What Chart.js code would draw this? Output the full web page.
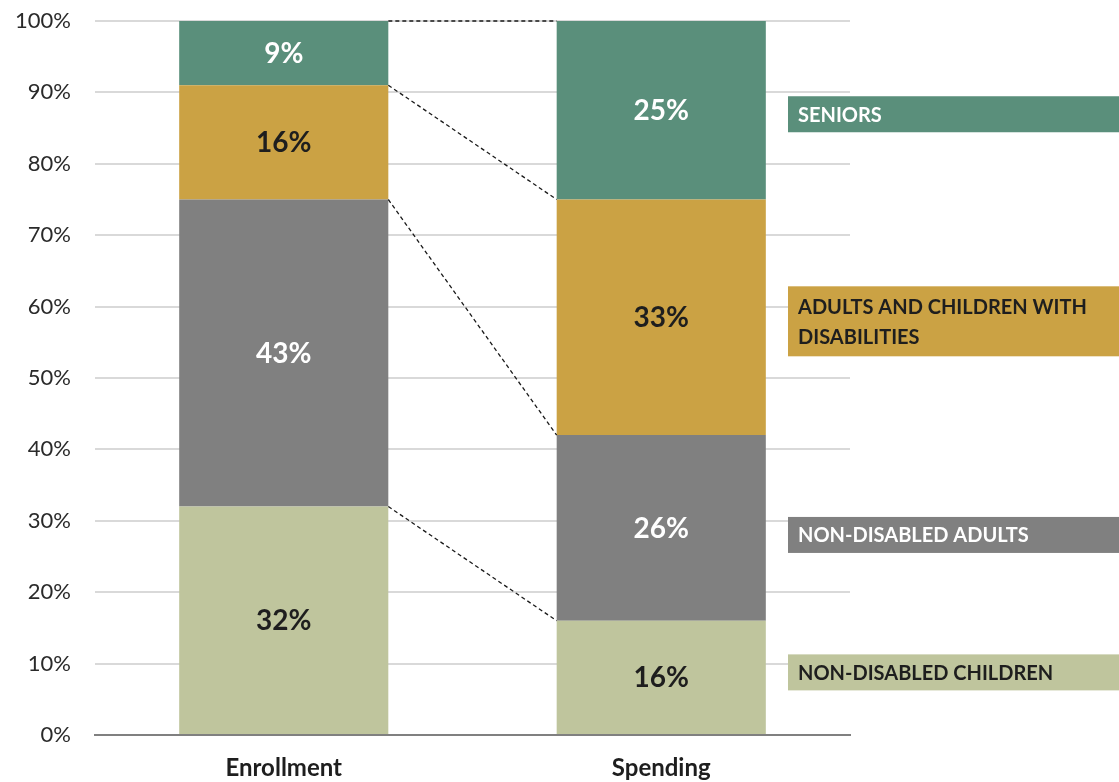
<!DOCTYPE html>
<html>
<head>
<meta charset="utf-8">
<script src="https://cdn.jsdelivr.net/npm/chart.js@4/dist/chart.umd.min.js"></script>
<style>
  html, body { margin: 0; padding: 0; background: #fff; }
  #wrap { width: 1119px; height: 782px; position: relative; }
</style>
</head>
<body>
<div id="wrap"><canvas id="c"></canvas></div>
<script>
// Share of enrollment vs. share of spending, by eligibility group
const categories = ['Enrollment', 'Spending'];
const groupNames = ['NON-DISABLED CHILDREN', 'NON-DISABLED ADULTS', 'ADULTS AND CHILDREN WITH DISABILITIES', 'SENIORS'];
const nonDisabledChildren = [32, 16];
const nonDisabledAdults = [43, 26];
const withDisabilities = [16, 33];
const seniors = [9, 25];
const yTicks = [0, 10, 20, 30, 40, 50, 60, 70, 80, 90, 100];

const colors = ['#BFC59D', '#808080', '#CBA244', '#5A8F7B'];
const labelColors = ['#1e1e1e', '#ffffff', '#1e1e1e', '#ffffff'];
const legendLines = [['NON-DISABLED CHILDREN'], ['NON-DISABLED ADULTS'], ['ADULTS AND CHILDREN WITH', 'DISABILITIES'], ['SENIORS']];
const tagShift = [-5, 7, 4, 4];
const FONT = 'Lato, "Open Sans", sans-serif';

// Values inside each segment
const segmentLabels = {
  id: 'segmentLabels',
  afterDatasetsDraw(chart) {
    const ctx = chart.ctx;
    ctx.save();
    ctx.font = 'bold 28px ' + FONT;
    ctx.textAlign = 'center';
    ctx.textBaseline = 'middle';
    chart.data.datasets.forEach((ds, i) => {
      chart.getDatasetMeta(i).data.forEach((bar, j) => {
        ctx.fillStyle = labelColors[i];
        ctx.fillText(ds.data[j] + '%', bar.x, (bar.y + bar.base) / 2 + 1);
      });
    });
    ctx.restore();
  }
};

// Dashed connectors between matching segment boundaries of the two bars
const connectors = {
  id: 'connectors',
  afterDatasetsDraw(chart) {
    const ctx = chart.ctx;
    const n = chart.data.datasets.length;
    ctx.save();
    ctx.strokeStyle = '#1a1a1a';
    ctx.lineWidth = 1.3;
    ctx.setLineDash([4, 3]);
    for (let i = 0; i < n; i++) {
      const a = chart.getDatasetMeta(i).data[0];
      const b = chart.getDatasetMeta(i).data[1];
      ctx.beginPath();
      ctx.moveTo(a.x + a.width / 2, a.y);
      ctx.lineTo(b.x - b.width / 2, b.y);
      ctx.stroke();
    }
    ctx.restore();
  }
};

// Coloured group tags to the right of the spending bar
const groupTags = {
  id: 'groupTags',
  afterDraw(chart) {
    const ctx = chart.ctx;
    const x0 = chart.chartArea.right - 62;
    ctx.save();
    ctx.font = 'bold 20px ' + FONT;
    ctx.textAlign = 'left';
    ctx.textBaseline = 'middle';
    chart.data.datasets.forEach((ds, i) => {
      const bar = chart.getDatasetMeta(i).data[1];
      const lines = legendLines[i];
      const h = lines.length === 1 ? 36 : 70;
      const cy = (bar.y + bar.base) / 2 + tagShift[i];
      ctx.fillStyle = colors[i];
      ctx.fillRect(x0, cy - h / 2, chart.width - x0, h);
      ctx.fillStyle = labelColors[i];
      const lh = 30;
      lines.forEach((t, k) => {
        ctx.fillText(t, x0 + 10, cy - (lines.length - 1) * lh / 2 + k * lh + 1);
      });
    });
    ctx.restore();
  }
};

const datasetValues = [nonDisabledChildren, nonDisabledAdults, withDisabilities, seniors];

new Chart(document.getElementById('c'), {
  type: 'bar',
  data: {
    labels: categories,
    datasets: datasetValues.map((vals, i) => ({
      label: groupNames[i],
      data: vals,
      backgroundColor: colors[i],
      borderWidth: 0,
      barPercentage: 1,
      categoryPercentage: 0.554
    }))
  },
  options: {
    responsive: true,
    maintainAspectRatio: false,
    animation: false,
    layout: { padding: { top: 21, right: 269, left: 0, bottom: 0 } },
    plugins: { legend: { display: false }, tooltip: { enabled: false } },
    scales: {
      x: {
        stacked: true,
        grid: { display: false, drawTicks: false },
        border: { display: true, color: '#808080', width: 2 },
        ticks: { color: '#1e1e1e', font: { family: FONT, size: 24, weight: 'bold' }, padding: 19 },
        afterFit(scale) { scale.height = 47; scale.paddingLeft = 0; scale.paddingRight = 0; }
      },
      y: {
        stacked: true,
        min: 0,
        max: 100,
        afterBuildTicks(axis) { axis.ticks = yTicks.map(v => ({ value: v })); },
        afterFit(scale) { scale.width = 95; scale.paddingTop = 0; scale.paddingBottom = 0; },
        grid: { color: '#D9D9D9', lineWidth: 2, drawTicks: false },
        border: { display: false },
        ticks: { color: '#2a2a2a', font: { family: FONT, size: 22 }, padding: 24, callback: v => v + '%' }
      }
    }
  },
  plugins: [connectors, segmentLabels, groupTags]
});
</script>
</body>
</html>
